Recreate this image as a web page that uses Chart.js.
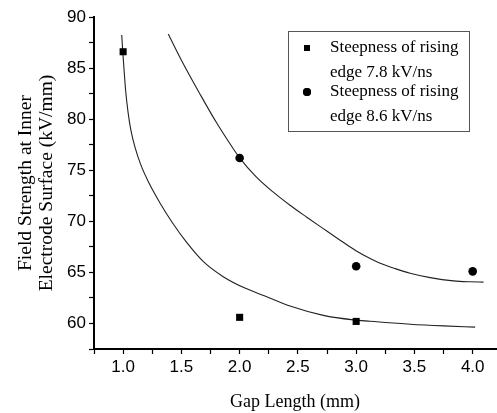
<!DOCTYPE html>
<html>
<head>
<meta charset="utf-8">
<style>
  html, body { margin: 0; padding: 0; background: #fff; }
  #wrap { width: 497px; height: 413px; }
</style>
<script src="https://cdn.jsdelivr.net/npm/chart.js"></script>
</head>
<body>
<div id="wrap"><canvas id="field" width="497" height="413"></canvas></div>
<script>
// measured points
const gap78 = [1.0, 2.0, 3.0];
const field78 = [86.6, 60.6, 60.2];
const gap86 = [2.0, 3.0, 4.0];
const field86 = [76.2, 65.6, 65.1];

// fitted curves
const fitGap78 = [0.988, 0.997, 1.008, 1.021, 1.043, 1.066, 1.101, 1.152, 1.221, 1.315, 1.423, 1.547, 1.689, 1.859, 2.045, 2.217, 2.432, 2.718, 2.976, 3.120, 3.463, 3.749, 4.021];
const fitField78 = [88.24, 86.58, 84.82, 82.86, 80.62, 78.95, 77.29, 75.52, 73.77, 71.82, 69.86, 67.91, 66.05, 64.58, 63.46, 62.68, 61.70, 60.79, 60.35, 60.22, 59.93, 59.76, 59.64];
const fitGap86 = [1.387, 1.515, 1.659, 1.802, 1.917, 1.998, 2.140, 2.289, 2.432, 2.576, 2.718, 2.862, 2.991, 3.120, 3.206, 3.335, 3.463, 3.635, 3.835, 3.978, 4.093];
const fitField86 = [88.34, 85.45, 82.47, 79.64, 77.59, 76.24, 74.38, 72.85, 71.57, 70.40, 69.28, 68.15, 67.17, 66.36, 65.90, 65.37, 64.92, 64.49, 64.17, 64.08, 64.05];

// axis ticks (major ones get labels)
const xTicks = [0.75, 1.0, 1.25, 1.5, 1.75, 2.0, 2.25, 2.5, 2.75, 3.0, 3.25, 3.5, 3.75, 4.0];
const xLabels = ['1.0', '1.5', '2.0', '2.5', '3.0', '3.5', '4.0'];
const yTicks = [57.5, 60, 62.5, 65, 67.5, 70, 72.5, 75, 77.5, 80, 82.5, 85, 87.5, 90];
const yLabels = ['60', '65', '70', '75', '80', '85', '90'];

const labels = ['Steepness of rising\nedge 7.8 kV/ns', 'Steepness of rising\nedge 8.6 kV/ns'];

const pairs = (xs, ys) => xs.map((x, i) => ({ x: x, y: ys[i] }));

// legend box drawn inside the plot, two-line entries
const boxLegend = {
  id: 'boxLegend',
  afterDraw(chart) {
    const ctx = chart.ctx;
    const a = chart.chartArea;
    const left = a.left + 194, top = a.top + 14, w = 181, h = 100;
    ctx.save();
    ctx.strokeStyle = '#555';
    ctx.lineWidth = 1;
    ctx.strokeRect(left + 0.5, top + 0.5, w, h);
    ctx.font = '17px "Liberation Serif", "Times New Roman", serif';
    ctx.textBaseline = 'middle';
    [0, 1].forEach(i => {
      const ds = chart.data.datasets[i];
      const y0 = top + 17 + i * 44;
      ctx.fillStyle = '#000';
      Chart.helpers.drawPoint(ctx, {
        pointStyle: ds.pointStyle, radius: ds.pointStyle === 'rect' ? 4.2 : 4,
        rotation: 0, borderWidth: 0
      }, left + 19, y0);
      ctx.fill();
      labels[i].split('\n').forEach((line, k) => {
        ctx.fillText(line, left + 42, y0 + k * 25);
      });
    });
    ctx.restore();
  }
};

const tickFont = { family: '"Liberation Sans", Arial, sans-serif', size: 17 };
const serif = '"Liberation Serif", "Times New Roman", serif';

new Chart('field', {
  type: 'scatter',
  data: {
    datasets: [
      {
        label: labels[0],
        data: pairs(gap78, field78),
        pointStyle: 'rect',
        pointRadius: 5,
        backgroundColor: '#000',
        borderColor: '#000',
        borderWidth: 0
      },
      {
        label: labels[1],
        data: pairs(gap86, field86),
        pointStyle: 'circle',
        pointRadius: 4.3,
        backgroundColor: '#000',
        borderColor: '#000',
        borderWidth: 0
      },
      {
        label: 'fit 7.8',
        data: pairs(fitGap78, fitField78),
        showLine: true,
        pointRadius: 0,
        borderColor: '#222',
        borderWidth: 1.1,
        cubicInterpolationMode: 'monotone'
      },
      {
        label: 'fit 8.6',
        data: pairs(fitGap86, fitField86),
        showLine: true,
        pointRadius: 0,
        borderColor: '#222',
        borderWidth: 1.1,
        cubicInterpolationMode: 'monotone'
      }
    ]
  },
  options: {
    responsive: false,
    animation: false,
    layout: { autoPadding: false, padding: { top: 17, right: 1, left: 0, bottom: 0 } },
    plugins: {
      legend: { display: false },
      tooltip: { enabled: false }
    },
    scales: {
      x: {
        type: 'linear',
        min: 0.75,
        max: 4.2,
        afterBuildTicks: s => { s.ticks = xTicks.map(v => ({ value: v })); },
        afterFit: s => { s.height = 64; },
        ticks: {
          autoSkip: false,
          maxRotation: 0,
          color: '#000',
          padding: 3,
          font: tickFont,
          callback: v => (xLabels.includes(v.toFixed(1)) && v * 2 === Math.round(v * 2) ? v.toFixed(1) : '')
        },
        grid: { display: true, drawOnChartArea: false, drawTicks: true, tickLength: 5, tickColor: '#000', tickWidth: 1.2 },
        border: { display: true, color: '#000', width: 2 },
        title: {
          display: true,
          text: 'Gap Length (mm)',
          color: '#000',
          padding: { top: 5, bottom: 0 },
          font: { family: serif, size: 18 }
        }
      },
      y: {
        type: 'linear',
        min: 57.5,
        max: 90,
        afterBuildTicks: s => { s.ticks = yTicks.map(v => ({ value: v })); },
        afterFit: s => { s.width = 94; },
        ticks: {
          autoSkip: false,
          color: '#000',
          padding: 3,
          font: tickFont,
          callback: v => (yLabels.includes(String(v)) ? String(v) : '')
        },
        grid: { display: true, drawOnChartArea: false, drawTicks: true, tickLength: 5, tickColor: '#000', tickWidth: 1.2 },
        border: { display: true, color: '#000', width: 2 },
        title: {
          display: true,
          text: ['Field Strength at Inner', 'Electrode Surface (kV/mm)'],
          color: '#000',
          padding: { top: 15, bottom: 0 },
          font: { family: serif, size: 19.5, lineHeight: 1.1 }
        }
      }
    }
  },
  plugins: [boxLegend]
});
</script>
</body>
</html>
